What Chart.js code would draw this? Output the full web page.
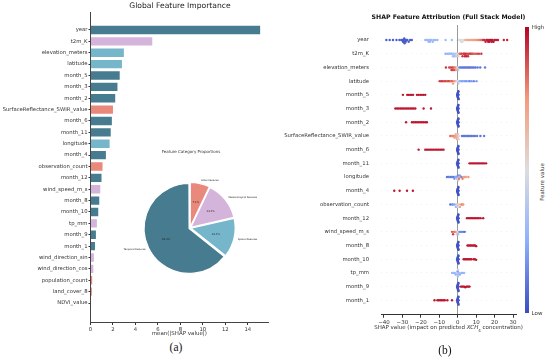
<!DOCTYPE html>
<html>
<head>
<meta charset="utf-8">
<script src="https://cdn.jsdelivr.net/npm/chart.js@4.4.0/dist/chart.umd.min.js"></script>
<style>
    html, body { margin: 0; padding: 0; background: #fff; }
    #fig { position: relative; width: 550px; height: 360px; overflow: hidden; font-family: 'DejaVu Sans', sans-serif; color: #333; }
    #fig canvas { position: absolute; }
    .txt { position: absolute; white-space: nowrap; transform: translate(-50%, -50%); line-height: 1; }
    .cap { font-family: 'Liberation Serif', serif; color: #111; font-size: 11.5px; }
</style>
</head>
<body>
<div id="fig">
    <canvas id="bar-chart" width="275" height="340" style="left:0;top:0"></canvas>
    <div class="txt" style="left:180px;top:6px;font-size:7.6px;color:#222">Global Feature Importance</div>
    <div class="txt" style="left:191px;top:152px;font-size:4px;color:#333">Feature Category Proportions</div>
    <canvas id="pie-chart" width="170" height="120" style="left:110px;top:160px"></canvas>
    <div class="txt cap" style="left:176px;top:348px">(a)</div>

    <canvas id="shap-chart" width="245" height="330" style="left:280px;top:0"></canvas>
    <div class="txt" style="left:448.5px;top:17px;font-size:6.2px;font-weight:bold;color:#111">SHAP Feature Attribution (Full Stack Model)</div>
    <div class="txt" style="left:448.5px;top:329px;font-size:5.5px;color:#333">SHAP value (impact on predicted <i>XCH</i><sub style="font-size:4px">4</sub> concentration)</div>
    <div style="position:absolute;left:525px;top:27px;width:3.5px;height:286px;background:linear-gradient(to top,#3b4cc0,#8db0fe 25%,#dddddd 50%,#f49a7b 75%,#b40426)"></div>
    <div class="txt" style="left:538px;top:28px;font-size:5.5px">High</div>
    <div class="txt" style="left:537px;top:314px;font-size:5.5px">Low</div>
    <div class="txt" style="left:543px;top:182px;font-size:5.5px;transform:translate(-50%,-50%) rotate(-90deg)">Feature value</div>
    <div class="txt cap" style="left:445px;top:351px">(b)</div>
</div>

<script>
// ---- (a) global importance ----
const barFeatures = ['year', 't2m_K', 'elevation_meters', 'latitude', 'month_5', 'month_3', 'month_2',
    'SurfaceReflectance_SWIR_value', 'month_6', 'month_11', 'longitude', 'month_4', 'observation_count',
    'month_12', 'wind_speed_m_s', 'month_8', 'month_10', 'tp_mm', 'month_9', 'month_1',
    'wind_direction_sin', 'wind_direction_cos', 'population_count', 'land_cover_8', 'NDVI_value'];
const barImportance = [15.1, 5.5, 2.97, 2.8, 2.6, 2.4, 2.2, 2.0, 1.9, 1.8, 1.7, 1.37, 1.07,
    0.98, 0.87, 0.78, 0.69, 0.57, 0.48, 0.4, 0.3, 0.25, 0.15, 0.12, 0.05];
// T temporal, M meteorological, S spatial, O other
const barGroup = ['T', 'M', 'S', 'S', 'T', 'T', 'T', 'O', 'T', 'T', 'S', 'T', 'O',
    'T', 'M', 'T', 'T', 'M', 'T', 'T', 'M', 'M', 'O', 'O', 'O'];
const groupColors = { T: '#477b8f', M: '#d5b4db', S: '#76b6cb', O: '#e8897b' };

const pieCategories = ['Other Features', 'Meteorological Features', 'Spatial Features', 'Temporal Features'];
const pieShares = [7.1, 14.3, 14.3, 64.3];
const pieColors = ['#e8897b', '#d5b4db', '#76b6cb', '#477b8f'];

// ---- (b) SHAP beeswarm: [shap value, feature level 0..1] ----
const shapFeatures = ['year', 't2m_K', 'elevation_meters', 'latitude', 'month_5', 'month_3', 'month_2',
    'SurfaceReflectance_SWIR_value', 'month_6', 'month_11', 'longitude', 'month_4', 'observation_count',
    'month_12', 'wind_speed_m_s', 'month_8', 'month_10', 'tp_mm', 'month_9', 'month_1'];
const shapTicks = [-40, -30, -20, -10, 0, 10, 20, 30];
const shapMin = -41.6, shapMax = 31.6;

// month dummies switched off sit at ~0
const monthOffShap = [-0.3, -0.2, -0.15, -0.1, -0.05, 0, 0, 0.05, 0.1, 0.15, 0.2, 0.25, 0.3, 0.4, 0.45, 0.5];
const monthOnShap = {
    month_5: [-29.7, -27.4, -26.6, -25.8, -25.0, -24.2, -22.1, -21.2, -20.3, -19.4, -18.5, -17.6],
    month_3: [-33.8, -32.9, -32.0, -31.1, -30.2, -29.3, -28.4, -27.5, -26.6, -25.7, -24.8, -23.9, -23.0, -18.5, -14.5],
    month_2: [-28.0, -24.8, -23.9, -23.0, -22.1, -21.2, -20.3, -19.4, -18.5, -17.6, -16.7],
    month_6: [-21.2, -17.6, -16.7, -15.8, -14.9, -14.0, -13.1, -12.2, -11.3, -10.4, -9.5, -8.6, -7.7],
    month_11: [6.4, 7.2, 8.0, 8.8, 9.6, 10.4, 11.2, 12.0, 12.8, 13.6, 14.4, 15.4],
    month_4: [-34.4, -31.5, -27.5, -24.3],
    month_12: [5.0, 5.8, 6.6, 7.4, 8.2, 9.0, 9.8, 10.6, 11.4, 12.4, 13.8],
    month_8: [5.3, 6.0, 6.7, 7.4, 8.1, 8.8, 9.4, 10.0],
    month_10: [3.2, 3.9, 4.6, 5.3, 6.0, 6.7, 7.4, 8.6, 9.3, 10.0],
    month_9: [1.7, 2.3, 2.9, 3.5, 4.1, 4.7, 5.3, 5.9, 6.4],
    month_1: [-12.6, -11.0, -10.2, -9.4, -8.6, -7.8, -7.0, -5.6, -3.1]
};
const yearPts = [
    [-38.7, 0.05], [-36.9, 0.05], [-35.1, 0.05], [-33.2, 0.05], [-31.6, 0.05], [-30.6, 0.05], [-30.0, 0.04],
    [-29.7, 0.04], [-29.4, 0.04], [-29.2, 0.04], [-29.0, 0.04], [-28.8, 0.04], [-28.5, 0.04], [-28.2, 0.04],
    [-27.8, 0.04], [-27.3, 0.05], [-26.6, 0.05], [-25.8, 0.05], [-24.9, 0.05],
    [-17.6, 0.3], [-16.8, 0.3], [-16.3, 0.3], [-15.8, 0.3], [-15.4, 0.3], [-15.0, 0.3], [-14.6, 0.3], [-14.1, 0.3],
    [-13.5, 0.3], [-12.8, 0.3], [-12.0, 0.3], [-11.0, 0.3], [-6.6, 0.32], [-3.2, 0.32],
    [0.8, 0.5], [1.3, 0.5], [1.8, 0.5], [2.2, 0.5], [2.6, 0.5], [3.1, 0.5], [3.6, 0.52],
    [4.2, 0.68], [5.0, 0.68], [5.8, 0.7], [6.6, 0.7], [7.4, 0.72], [8.2, 0.72], [9.0, 0.74], [9.8, 0.75],
    [10.6, 0.76], [11.4, 0.78], [12.2, 0.8], [13.0, 0.82],
    [13.8, 0.92], [14.5, 0.93], [15.1, 0.95], [15.6, 0.95], [16.1, 0.96], [16.5, 0.96], [16.9, 0.96], [17.3, 0.97],
    [17.7, 0.97], [18.1, 0.97], [18.5, 0.97], [18.9, 0.97], [19.4, 0.97], [20.0, 0.97], [20.8, 0.96], [21.8, 0.96],
    [25.0, 0.95], [26.8, 0.95]
];
const t2mPts = [
    [-6.6, 0.25], [-5.6, 0.28], [-4.8, 0.3], [-4.2, 0.3], [-3.6, 0.32], [-3.1, 0.3], [-2.6, 0.32], [-2.2, 0.34],
    [-1.8, 0.3], [-1.4, 0.36], [-1.0, 0.38], [-0.6, 0.4], [-0.2, 0.45], [0.3, 0.55], [0.9, 0.8], [1.5, 0.85],
    [2.1, 0.9], [2.6, 0.92], [3.1, 0.9], [3.5, 0.92], [3.9, 0.95], [4.3, 0.93], [4.7, 0.95], [5.1, 0.9],
    [5.6, 0.92], [6.1, 0.9], [6.6, 0.88], [7.2, 0.9], [7.9, 0.88], [8.6, 0.85], [9.5, 0.85], [10.5, 0.88],
    [11.5, 0.9], [12.8, 0.92]
];
const elevationPts = [
    [-6.4, 0.92], [-4.6, 0.9], [-3.9, 0.88], [-3.4, 0.9], [-3.0, 0.92], [-2.6, 0.9], [-2.2, 0.85], [-1.8, 0.88],
    [-1.4, 0.8], [-1.0, 0.75], [-0.6, 0.7], [-0.2, 0.55], [0.3, 0.4],
    [0.9, 0.15], [1.6, 0.12], [2.3, 0.12], [3.0, 0.1], [3.7, 0.12], [4.4, 0.1], [5.1, 0.12], [5.8, 0.1],
    [6.5, 0.1], [7.2, 0.12], [8.0, 0.1], [8.8, 0.12], [9.7, 0.1], [10.8, 0.12], [12.2, 0.1], [14.8, 0.12]
];
const latitudePts = [
    [-9.8, 0.9], [-8.9, 0.92], [-8.1, 0.9], [-7.3, 0.88], [-6.5, 0.9], [-5.7, 0.85], [-5.0, 0.9], [-4.3, 0.88],
    [-3.7, 0.8], [-3.1, 0.85], [-2.5, 0.75], [-1.9, 0.8], [-1.3, 0.7], [-0.7, 0.6], [-0.2, 0.5], [0.3, 0.35],
    [0.9, 0.3], [1.6, 0.25], [2.4, 0.2], [3.2, 0.25], [4.0, 0.2], [4.8, 0.2], [5.6, 0.25], [6.5, 0.15],
    [7.5, 0.2], [8.7, 0.15], [10.2, 0.2]
];
const swirPts = [
    [-4.0, 0.85], [-3.4, 0.8], [-2.8, 0.75], [-2.3, 0.8], [-1.9, 0.7], [-1.5, 0.75], [-1.1, 0.65], [-1.0, 0.7],
    [-0.8, 0.7], [-0.6, 0.75], [-0.5, 0.6], [-0.3, 0.7], [-0.2, 0.65], [0.0, 0.6], [0.1, 0.6], [0.4, 0.55], [0.7, 0.5],
    [2.3, 0.12], [3.0, 0.1], [3.7, 0.12], [4.4, 0.1], [5.1, 0.12], [5.8, 0.1], [6.6, 0.12], [7.4, 0.1],
    [8.3, 0.12], [9.3, 0.1], [10.5, 0.12], [12.3, 0.1], [14.3, 0.12]
];
const longitudePts = [
    [-5.8, 0.1], [-5.0, 0.12], [-4.3, 0.15], [-3.6, 0.1], [-3.0, 0.15], [-2.4, 0.12], [-1.8, 0.2], [-1.3, 0.15],
    [-0.8, 0.25], [-0.4, 0.3], [-0.2, 0.2], [0.0, 0.45], [0.1, 0.15], [0.3, 0.6], [0.5, 0.3], [0.7, 0.8],
    [1.2, 0.2], [1.6, 0.75], [2.1, 0.15], [2.6, 0.8], [3.2, 0.7], [3.8, 0.75], [4.6, 0.7], [5.8, 0.75]
];
const obsCountPts = [
    [-4.0, 0.1], [-3.0, 0.15], [-2.2, 0.2], [-1.6, 0.25], [-1.0, 0.3], [-0.5, 0.35], [-0.2, 0.45], [0.2, 0.5],
    [0.6, 0.6], [1.2, 0.7], [1.8, 0.75], [2.5, 0.8], [3.0, 0.75]
];
const windSpeedPts = [
    [-3.1, 0.85], [-2.5, 0.9], [-1.9, 0.85], [-1.4, 0.8], [-0.9, 0.75], [-0.5, 0.6], [-0.1, 0.5], [0.3, 0.35],
    [0.8, 0.2], [1.4, 0.15], [2.1, 0.15], [2.9, 0.12], [3.8, 0.1]
];
const tpPts = [
    [-3.1, 0.3], [-2.4, 0.3], [-1.7, 0.28], [-1.1, 0.25], [-0.6, 0.3], [-0.2, 0.5], [0.0, 0.3], [0.0, 0.2],
    [0.1, 0.35], [0.2, 0.45], [0.6, 0.3], [1.2, 0.25], [1.9, 0.3], [2.7, 0.25], [3.5, 0.3]
];
const continuousPts = {
    year: yearPts, t2m_K: t2mPts, elevation_meters: elevationPts, latitude: latitudePts,
    SurfaceReflectance_SWIR_value: swirPts, longitude: longitudePts, observation_count: obsCountPts,
    wind_speed_m_s: windSpeedPts, tp_mm: tpPts
};

const FONT = "'DejaVu Sans', sans-serif";
const coolwarmStops = [[0, [59, 76, 192]], [0.25, [141, 176, 254]], [0.5, [221, 221, 221]], [0.75, [244, 154, 123]], [1, [180, 4, 38]]];

function coolwarm(t) {
    for (let i = 1; i < coolwarmStops.length; i++) {
        const [t1, c1] = coolwarmStops[i];
        const [t0, c0] = coolwarmStops[i - 1];
        if (t <= t1) {
            const f = (t - t0) / (t1 - t0);
            const c = c0.map((v, k) => Math.round(v + (c1[k] - v) * f));
            return `rgb(${c[0]},${c[1]},${c[2]})`;
        }
    }
    return 'rgb(180,4,38)';
}

// shap-style beeswarm: quantize x, stack alternately within a bin
function swarmRow(points, row) {
    const nbins = 100;
    const span = shapMax - shapMin;
    const quant = points.map(p => Math.round(nbins * (p[0] - shapMin) / span));
    const order = points.map((_, i) => i).sort((a, b) => quant[a] - quant[b] || a - b);
    const ys = new Array(points.length).fill(0);
    let layer = 0, lastBin = null;
    order.forEach(i => {
        if (quant[i] !== lastBin) layer = 0;
        ys[i] = Math.ceil(layer / 2) * ((layer % 2) * 2 - 1);
        layer++;
        lastBin = quant[i];
    });
    const scale = 0.9 * (0.4 / Math.max(...ys.map(y => y + 1)));
    return points.map((p, i) => ({ x: p[0], y: row + ys[i] * scale, c: p[1] }));
}

function rowPoints(name) {
    if (continuousPts[name]) return continuousPts[name];
    return monthOffShap.map(v => [v, 0.02]).concat(monthOnShap[name].map(v => [v, 0.97]));
}

const shapData = shapFeatures.flatMap((name, row) => swarmRow(rowPoints(name), row));

// ---- bar chart ----
new Chart(document.getElementById('bar-chart'), {
    type: 'bar',
    data: {
        datasets: [{
            data: barImportance.map((v, i) => ({ x: v, y: i })),
            backgroundColor: barGroup.map(g => groupColors[g]),
            barPercentage: 0.74,
            categoryPercentage: 1
        }]
    },
    options: {
        indexAxis: 'y',
        responsive: false,
        animation: false,
        layout: { padding: { top: 12, right: 7, left: 0, bottom: 0 } },
        plugins: { legend: { display: false }, tooltip: { enabled: false } },
        scales: {
            x: {
                type: 'linear', min: 0, max: 15.8,
                ticks: { stepSize: 2, includeBounds: false, padding: 1, color: '#333', font: { family: FONT, size: 5.3 } },
                grid: { drawOnChartArea: false, tickLength: 3, color: '#333' },
                border: { color: '#444' },
                title: { display: true, text: 'mean(|SHAP value|)', color: '#333', font: { family: FONT, size: 5.5 }, padding: { top: 1, bottom: 3 } },
                afterFit: s => { s.height = 18; }
            },
            y: {
                type: 'linear', min: -1.58, max: 25.67, reverse: true, offset: false,
                afterBuildTicks: s => { s.ticks = barFeatures.map((_, i) => ({ value: i })); },
                ticks: { autoSkip: false, padding: 1, color: '#333', font: { family: FONT, size: 5.3 }, callback: v => barFeatures[v] },
                grid: { drawOnChartArea: false, offset: false, tickLength: 2, color: '#333' },
                border: { color: '#444' },
                afterFit: s => { s.width = 90.5; }
            }
        }
    }
});

// ---- inset pie ----
const pieLabels = {
    id: 'pieLabels',
    afterDatasetsDraw(chart) {
        const ctx = chart.ctx;
        const arcs = chart.getDatasetMeta(0).data;
        ctx.save();
        ctx.fillStyle = '#222';
        ctx.textBaseline = 'middle';
        arcs.forEach((arc, i) => {
            const mid = (arc.startAngle + arc.endAngle) / 2;
            const r = arc.outerRadius;
            ctx.font = `2.6px ${FONT}`;
            ctx.textAlign = 'center';
            ctx.fillText(pieShares[i].toFixed(1) + '%', arc.x + Math.cos(mid) * r * 0.6, arc.y + Math.sin(mid) * r * 0.6);
            ctx.font = `2.4px ${FONT}`;
            ctx.textAlign = Math.cos(mid) >= 0 ? 'left' : 'right';
            ctx.fillText(pieCategories[i], arc.x + Math.cos(mid) * r * 1.12, arc.y + Math.sin(mid) * r * 1.12);
        });
        ctx.restore();
    }
};

new Chart(document.getElementById('pie-chart'), {
    type: 'pie',
    data: {
        labels: pieCategories,
        datasets: [{
            data: pieShares,
            backgroundColor: pieColors,
            borderColor: '#fff',
            borderWidth: 1.2,
            offset: 4,
            radius: 44
        }]
    },
    options: {
        responsive: false,
        animation: false,
        layout: { padding: { left: 33, right: 43, top: 21, bottom: 5 } },
        plugins: { legend: { display: false }, tooltip: { enabled: false } }
    },
    plugins: [pieLabels]
});

// ---- SHAP beeswarm ----
new Chart(document.getElementById('shap-chart'), {
    type: 'scatter',
    data: {
        datasets: [{
            data: shapData,
            pointRadius: 1.2,
            pointBorderWidth: 0,
            pointBackgroundColor: ctx => coolwarm(ctx.raw ? ctx.raw.c : 0.5)
        }]
    },
    options: {
        responsive: false,
        animation: false,
        layout: { padding: { top: 25, right: 9, left: 0, bottom: 0 } },
        plugins: { legend: { display: false }, tooltip: { enabled: false } },
        scales: {
            x: {
                type: 'linear', min: shapMin, max: shapMax,
                afterBuildTicks: s => { s.ticks = shapTicks.map(v => ({ value: v })); },
                ticks: { padding: 1.5, color: '#333', font: { family: FONT, size: 5.5 }, callback: v => (v < 0 ? '\u2212' + (-v) : String(v)) },
                grid: {
                    color: c => (c.tick && c.tick.value === 0 ? '#999' : 'rgba(0,0,0,0)'),
                    tickColor: '#333', tickLength: 3, lineWidth: 1
                },
                border: { color: '#333' },
                afterFit: s => { s.height = 15.3; }
            },
            y: {
                type: 'linear', min: -1.1, max: 20.05, reverse: true,
                afterBuildTicks: s => { s.ticks = shapFeatures.map((_, i) => ({ value: i })); },
                ticks: { autoSkip: false, padding: 12, color: '#333', font: { family: FONT, size: 5.3 }, callback: v => shapFeatures[v] },
                grid: { drawTicks: false, color: '#e2e2e2', lineWidth: 0.5 },
                border: { display: false, dash: [1, 4] },
                afterFit: s => { s.width = 101; }
            }
        }
    }
});
</script>
</body>
</html>
